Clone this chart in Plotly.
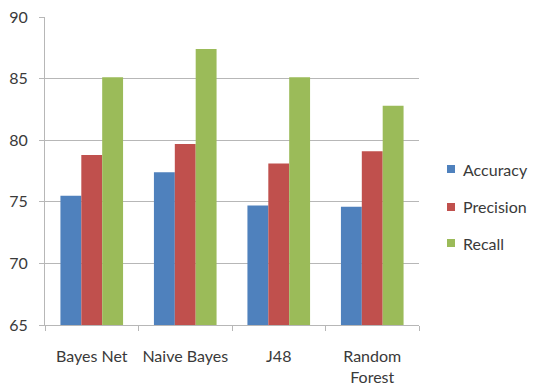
import plotly.graph_objects as go

# Classifier comparison data
classifiers = ["Bayes Net", "Naive Bayes", "J48", "Random<br>Forest"]
series_names = ["Accuracy", "Precision", "Recall"]
accuracy = [75.5, 77.4, 74.7, 74.6]
precision = [78.8, 79.7, 78.1, 79.1]
recall = [85.1, 87.4, 85.1, 82.8]
series_values = [accuracy, precision, recall]
series_colors = ["#4F81BD", "#C0504D", "#9BBB59"]
y_ticks = [65, 70, 75, 80, 85, 90]

FONT = "Lato, 'Open Sans', sans-serif"
TEXT = "#3a3a3a"
GRID = "#b7b7b7"

W, H = 534, 389
L, R, T, B = 45, 115, 17, 64
PW, PH = W - L - R, H - T - B

fig = go.Figure()

for name, vals, col in zip(series_names, series_values, series_colors):
    fig.add_trace(go.Bar(
        x=classifiers, y=vals, name=name,
        marker=dict(color=col, line=dict(width=0)),
        showlegend=False,
    ))

# Legend on the right: small colour keys with labels
shapes, annotations = [], []
key_left, key_size, text_left = 447, 8, 461
row_y = [169, 207, 243]
for name, col, py in zip(series_names, series_colors, row_y):
    x0 = (key_left - L) / PW
    x1 = (key_left + key_size - L) / PW
    y0 = (H - B - (py + key_size / 2)) / PH
    y1 = (H - B - (py - key_size / 2)) / PH
    shapes.append(dict(type="rect", xref="paper", yref="paper",
                       x0=x0, x1=x1, y0=y0, y1=y1,
                       fillcolor=col, line=dict(width=0)))
    annotations.append(dict(xref="paper", yref="paper",
                            x=(text_left - L) / PW, y=(H - B - py) / PH,
                            xanchor="left", yanchor="middle", showarrow=False,
                            text=name, font=dict(family=FONT, size=16, color=TEXT)))

fig.update_layout(
    width=W, height=H,
    margin=dict(l=L, r=R, t=T, b=B, autoexpand=False),
    paper_bgcolor="white", plot_bgcolor="white",
    barmode="group", bargap=0.33, bargroupgap=0,
    font=dict(family=FONT, size=16, color=TEXT),
    showlegend=False,
    shapes=shapes, annotations=annotations,
    xaxis=dict(
        showgrid=False, showline=True, linecolor=GRID, linewidth=1,
        ticks="outside", tickson="boundaries", ticklen=5, tickcolor=GRID,
        ticklabelstandoff=17, tickangle=0,
        tickfont=dict(family=FONT, size=16, color=TEXT),
    ),
    yaxis=dict(
        range=[65, 90], tickvals=y_ticks,
        showgrid=True, gridcolor=GRID, gridwidth=1,
        showline=True, linecolor=GRID, linewidth=1,
        ticks="outside", ticklen=5, tickcolor=GRID,
        ticklabelstandoff=8, zeroline=False,
        tickfont=dict(family=FONT, size=16, color=TEXT),
    ),
)

fig.write_html("out.html")
